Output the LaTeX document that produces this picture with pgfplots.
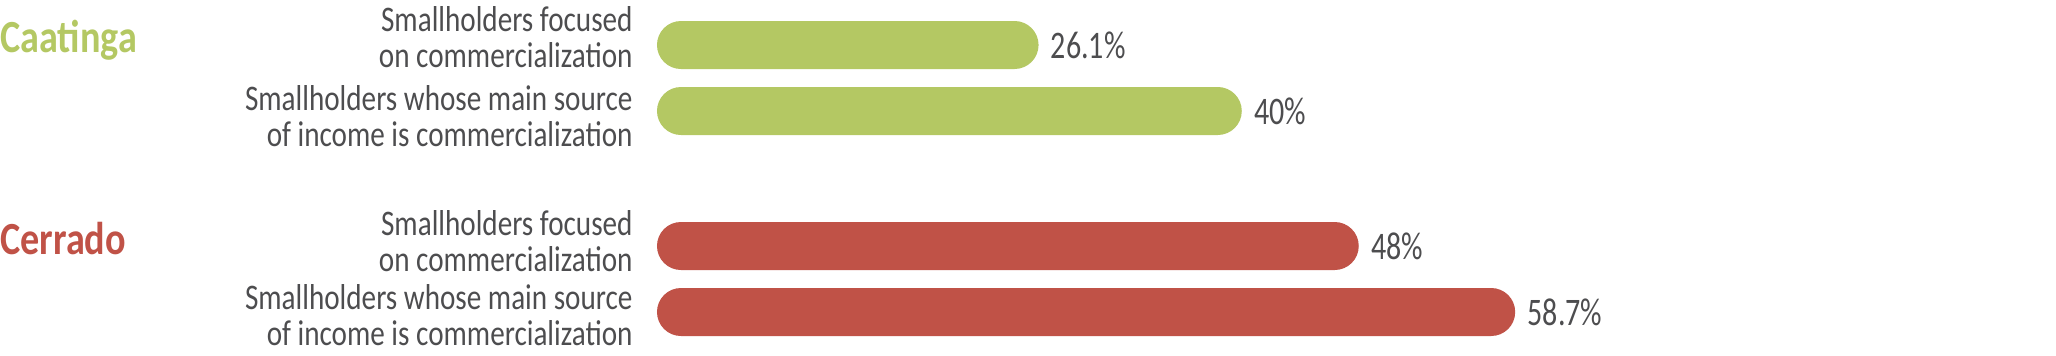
\documentclass[border=0pt]{standalone}
\usepackage{fontspec}
\usepackage{pgfplots}
\pgfplotsset{compat=1.18}
\newfontfamily\labelfont[FakeStretch=0.81]{Carlito}
\newfontfamily\valuefont[FakeStretch=0.77]{Carlito}
\newfontfamily\titlefont[FakeStretch=0.83]{Carlito}
\definecolor{caat}{RGB}{180,200,99}
\definecolor{cerr}{RGB}{192,82,71}
\definecolor{txt}{RGB}{77,77,79}
\begin{document}
\begin{tikzpicture}
\begin{axis}[
  x=7.31pt, y=0.5pt,
  xmin=0, xmax=95.69, ymin=0, ymax=355,
  enlargelimits=false,
  clip=false,
  axis line style={draw=none},
  major tick length=0pt,
  xtick=\empty,
  ytick={40,114,239,318},
  yticklabels={
    {Smallholders whose main source\\of income is commercialization},
    {Smallholders focused\\on commercialization},
    {Smallholders whose main source\\of income is commercialization},
    {Smallholders focused\\on commercialization}},
  yticklabel style={align=right, inner sep=0pt, xshift=-12pt, text=txt,
    font=\labelfont\fontsize{18pt}{18pt}\selectfont},
  /pgf/number format/assume math mode=true,
  point meta=x,
  nodes near coords={\pgfmathprintnumber{\pgfplotspointmeta}\%},
  nodes near coords align={horizontal},
  every node near coord/.append style={anchor=west, inner sep=0pt, xshift=6pt,
    text=txt, font=\valuefont\fontsize{19.5pt}{20pt}\selectfont},
]
\addplot[xbar, bar width=24pt, bar shift=0pt, fill=caat, draw=none, rounded corners=12pt]
  coordinates {(26.1,310) (40,244)};
\addplot[xbar, bar width=24pt, bar shift=0pt, fill=cerr, draw=none, rounded corners=12pt]
  coordinates {(48,109) (58.7,43)};
\node[anchor=base west, inner sep=0pt, text=caat, font=\titlefont\bfseries\fontsize{23pt}{24pt}\selectfont]
  at ([xshift=-328.5pt]axis cs:0,303) {Caatinga};
\node[anchor=base west, inner sep=0pt, text=cerr, font=\titlefont\bfseries\fontsize{23pt}{24pt}\selectfont]
  at ([xshift=-328.5pt]axis cs:0,101) {Cerrado};
\end{axis}
\pgfresetboundingbox
\path[use as bounding box] ([xshift=-328.5pt]current axis.south west) rectangle (current axis.north east);
\end{tikzpicture}
\end{document}
